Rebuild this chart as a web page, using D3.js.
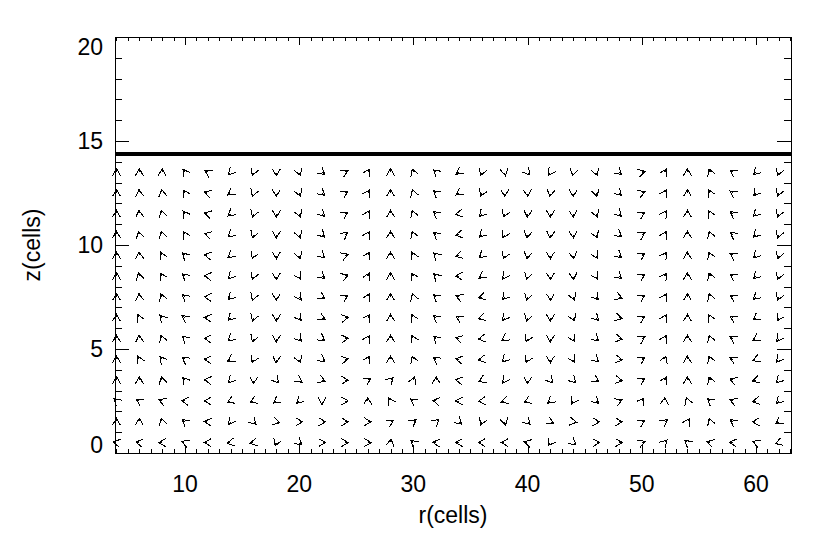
<!DOCTYPE html>
<html>
<head>
<meta charset="utf-8">
<script src="https://cdn.jsdelivr.net/npm/d3@7/dist/d3.min.js"></script>
<style>
  body { margin: 0; background: #fff; }
  svg text { font-family: "DejaVu Sans ExtraLight", "Liberation Sans", Arial, sans-serif; font-size: 23px; fill: #000; }
</style>
</head>
<body>
<div id="chart"></div>
<script>
"use strict";

// grid points of the velocity field (cells)
let rCells = [4, 6, 8, 10, 12, 14, 16, 18, 20, 22, 24, 26, 28, 30, 32, 34, 36, 38, 40, 42, 44, 46, 48, 50, 52, 54, 56, 58, 60, 62];
let zCells = [0.5, 1.5, 2.5, 3.5, 4.5, 5.5, 6.5, 7.5, 8.5, 9.5, 10.5, 11.5, 12.5, 13.5];

// direction of the flow in degrees (0 = +r, 90 = +z), one list per z row, bottom first
let dirZ00 = [170,170,180,160,180,190,190,250,320,  0,  0,  0, 80,140,175,180,180,180,165,235,320,  0,  0, 20, 45,140,165,175,160,200];
let dirZ01 = [ 90, 90,105,140,175,235,315,345,  0,  0,  0,  0, 30, 35, 40,320,245,285,315,335,350,  0,  0, 30, 35, 60,110,145,180,215];
let dirZ02 = [140,150,160,175,180,205,205,215,225,270,  0, 90,120,145,170,180,185,200,205,220,240,315, 25, 55, 85,110,140,160,190,225];
let dirZ03 = [ 90, 90,105,130,175,225,265,310,325,335,  0, 30, 45, 70, 90,170,205,235,265,310,315,330,350, 30, 60, 90,110,160,195,225];
let dirZ04 = [ 90,115,130,145,175,210,245,265,293,325, 10, 60, 90,110,145,170,190,225,245,270,300,320,350, 30, 70, 90,110,155,200,230];
let dirZ05 = [ 90, 95,110,140,175,220,250,270,310,325,  5, 60, 90,115,135,165,190,215,245,270,300,320,350, 30, 60, 90,110,150,210,235];
let dirZ06 = [ 90,115,130,145,175,225,250,270,305,335, 10, 55, 90,115,140,150,200,235,255,270,295,315,345, 30, 60, 90,115,150,215,240];
let dirZ07 = [ 90, 95,110,140,175,225,250,270,305,330, 30, 65, 90,110,140,160,195,230,255,270,290,310,340, 30, 60, 90,110,150,220,245];
let dirZ08 = [ 90,105,120,140,175,225,250,270,300,320, 20, 65, 90,120,135,180,213,235,255,270,275,300,320, 30, 55, 90,110,145,225,250];
let dirZ09 = [ 90, 95,115,135,170,220,250,270,290,320, 20, 60, 90,115,135,195,222,245,260,270,280,300,320, 30, 55, 90,110,150,225,250];
let dirZ10 = [ 90,105,105,120,165,220,250,270,290,315, 35, 60, 90,110,140,190,225,240,260,265,275,295,320, 30, 60, 90,110,145,225,250];
let dirZ11 = [ 90, 95,105,125,165,220,250,270,290,315, 30, 60, 90,110,140,190,228,245,265,270,275,290,315, 30, 55, 90,115,145,225,250];
let dirZ12 = [ 90, 95,100,120,160,215,250,270,290,320, 30, 60, 90,110,140,215,245,270,275,260,270,285,315, 20, 60, 90,115,145,230,250];
let dirZ13 = [ 90, 90, 90,125,150,225,250,270,290,320, 25, 60, 90,110,140,215,250,280,310,235,255,290,320, 15, 60, 90,110,145,225,250];

let dirRows = [dirZ00, dirZ01, dirZ02, dirZ03, dirZ04, dirZ05, dirZ06, dirZ07, dirZ08, dirZ09, dirZ10, dirZ11, dirZ12, dirZ13];

let xTicks = [10, 20, 30, 40, 50, 60],
  yTicks = [0, 5, 10, 15, 20],
  surfaceZ = 14.375
;

let W = 814, H = 543,
  margin = {top: 37, right: 23, bottom: 90, left: 115},
  width = W - margin.left - margin.right,
  height = H - margin.top - margin.bottom
;

let svg = d3.select("#chart").append("svg")
  .attr("width", W)
  .attr("height", H);

svg.append("rect").attr("width", W).attr("height", H).attr("fill", "#fff");

let g = svg.append("g").attr("transform", "translate(" + margin.left + "," + margin.top + ")"),
  x = d3.scaleLinear().domain([3.87, 63.07]).range([0, width]),
  y = d3.scaleLinear().domain([0, 20]).range([height, 0])
;

// minor / major ticks, all pointing inward
let xMinor = d3.range(4, 64),
  yMinor = d3.range(0, 21)
;

function tickAxis(axis, scale, vals, size, tr) {
  let a = g.append("g")
    .attr("transform", tr)
    .call(axis(scale).tickValues(vals).tickSizeInner(-size).tickSizeOuter(0).tickFormat(""));
  a.select(".domain").remove();
  a.selectAll("line").attr("stroke", "#000").attr("shape-rendering", "crispEdges");
  return a;
}

tickAxis(d3.axisBottom, x, xMinor, 4, "translate(0," + height + ")");
tickAxis(d3.axisBottom, x, xTicks, 8, "translate(0," + height + ")");
tickAxis(d3.axisTop, x, xMinor, 4, "translate(0,0)");
tickAxis(d3.axisTop, x, xTicks, 8, "translate(0,0)");
tickAxis(d3.axisLeft, y, yMinor, 7, "translate(0,0)");
tickAxis(d3.axisLeft, y, yTicks, 14, "translate(0,0)");
tickAxis(d3.axisRight, y, yMinor, 7, "translate(" + width + ",0)");
tickAxis(d3.axisRight, y, yTicks, 14, "translate(" + width + ",0)");

// tick labels
g.append("g").selectAll("text")
  .data(xTicks)
  .enter()
  .append("text")
  .attr("x", function(d) { return x(d); })
  .attr("y", height + 39)
  .attr("text-anchor", "middle")
  .text(function(d) { return d; });

g.append("g").selectAll("text")
  .data(yTicks)
  .enter()
  .append("text")
  .attr("x", -12)
  .attr("y", function(d) { return Math.min(Math.max(y(d), 9.5), height - 8); })
  .attr("dy", "0.36em")
  .attr("text-anchor", "end")
  .text(function(d) { return d; });

svg.append("text")
  .attr("x", margin.left + width / 2)
  .attr("y", 523)
  .attr("text-anchor", "middle")
  .text("r(cells)");

svg.append("text")
  .attr("transform", "translate(40," + (margin.top + height / 2) + ") rotate(-90)")
  .attr("text-anchor", "middle")
  .text("z(cells)");

// arrow heads
let head = 8, shaft = 3, off = 3.5,
  spread = 30 * Math.PI / 180,
  arrows = []
;

dirRows.forEach(function(row, j) {
  row.forEach(function(a, i) {
    arrows.push({r: rCells[i], z: zCells[j], a: a});
  });
});

g.append("g").selectAll("path")
  .data(arrows)
  .enter()
  .append("path")
  .attr("fill", "none")
  .attr("stroke", "#000")
  .attr("stroke-width", 1)
  .attr("shape-rendering", "crispEdges")
  .attr("d", function(d) {
    let t = d.a * Math.PI / 180,
      ux = Math.cos(t), uy = -Math.sin(t),
      tx = x(d.r) + ux * off, ty = y(d.z) + uy * off,
      b1 = t + Math.PI - spread, b2 = t + Math.PI + spread
    ;
    return "M" + (tx + head * Math.cos(b1)) + "," + (ty - head * Math.sin(b1))
      + "L" + tx + "," + ty
      + "L" + (tx + head * Math.cos(b2)) + "," + (ty - head * Math.sin(b2))
      + "M" + (tx - ux * shaft) + "," + (ty - uy * shaft)
      + "L" + tx + "," + ty;
  });

// free surface
g.append("line")
  .attr("x1", 0)
  .attr("x2", width)
  .attr("y1", y(surfaceZ))
  .attr("y2", y(surfaceZ))
  .attr("stroke", "#000")
  .attr("stroke-width", 4);

// frame
g.append("rect")
  .attr("width", width)
  .attr("height", height)
  .attr("fill", "none")
  .attr("stroke", "#000")
  .attr("shape-rendering", "crispEdges");
</script>
</body>
</html>
